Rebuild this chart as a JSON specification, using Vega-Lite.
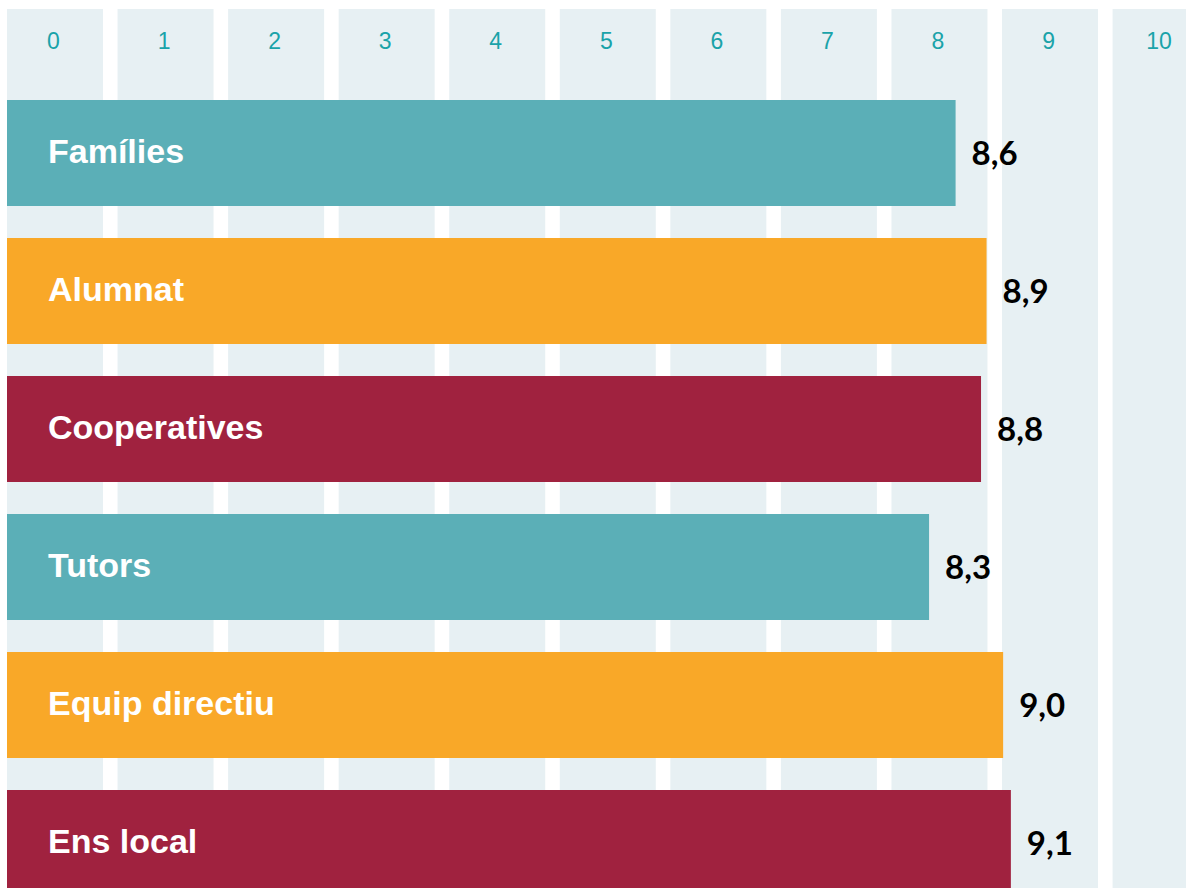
{
  "$schema": "https://vega.github.io/schema/vega-lite/v6.json",
  "autosize": "none",
  "width": 1179,
  "height": 879,
  "padding": {"left": 7, "top": 9, "right": 0, "bottom": 0},
  "background": "white",
  "config": {"view": {"stroke": null}, "font": "Arial"},
  "datasets": {
    "cols": [{"c": 0}, {"c": 1}, {"c": 2}, {"c": 3}, {"c": 4}, {"c": 5}, {"c": 6}, {"c": 7}, {"c": 8}, {"c": 9}, {"c": 10}],
    "bars": [
      {"cat": "Famílies", "value": 8.58, "label": "8,6"},
      {"cat": "Alumnat", "value": 8.86, "label": "8,9"},
      {"cat": "Cooperatives", "value": 8.81, "label": "8,8"},
      {"cat": "Tutors", "value": 8.34, "label": "8,3"},
      {"cat": "Equip directiu", "value": 9.01, "label": "9,0"},
      {"cat": "Ens local", "value": 9.08, "label": "9,1"}
    ]
  },
  "layer": [
    {
      "data": {"name": "cols"},
      "mark": {"type": "rect", "color": "#E7F0F3", "x2Offset": 96},
      "encoding": {
        "x": {
          "field": "c", "type": "quantitative",
          "scale": {"domain": [0, 10.664], "nice": false, "zero": true},
          "axis": {
            "orient": "top", "values": [0, 1, 2, 3, 4, 5, 6, 7, 8, 9, 10], "format": "d",
            "title": null, "domain": false, "ticks": false, "tickSize": 0, "grid": false,
            "labelPadding": -32, "labelBaseline": "middle", "labelOffset": 46,
            "labelFont": "Arial", "labelFontSize": 23, "labelFontWeight": "normal", "labelColor": "#1AA3A9",
            "labelFlush": false, "labelOverlap": false, "zindex": 1
          }
        },
        "x2": {"field": "c"}
      }
    },
    {
      "data": {"name": "bars"},
      "mark": {"type": "bar"},
      "encoding": {
        "y": {
          "field": "cat", "type": "nominal", "sort": null,
          "scale": {"range": [91, 887], "paddingInner": 0.232, "paddingOuter": 0},
          "axis": null
        },
        "x": {"field": "value", "type": "quantitative"},
        "color": {
          "field": "cat", "type": "nominal", "legend": null,
          "scale": {
            "domain": ["Famílies", "Alumnat", "Cooperatives", "Tutors", "Equip directiu", "Ens local"],
            "range": ["#5BAFB7", "#F9A828", "#A0223F", "#5BAFB7", "#F9A828", "#A0223F"]
          }
        }
      }
    },
    {
      "data": {"name": "bars"},
      "mark": {"type": "text", "align": "left", "baseline": "middle", "dx": 41, "font": "Arial", "fontWeight": "bold", "fontSize": 34, "color": "white"},
      "encoding": {
        "y": {"field": "cat", "type": "nominal", "sort": null},
        "x": {"datum": 0, "type": "quantitative"},
        "text": {"field": "cat"}
      }
    },
    {
      "data": {"name": "bars"},
      "mark": {"type": "text", "align": "left", "baseline": "middle", "dx": 16, "dy": 2, "font": "Lato", "fontWeight": "bold", "fontSize": 33, "color": "black"},
      "encoding": {
        "y": {"field": "cat", "type": "nominal", "sort": null},
        "x": {"field": "value", "type": "quantitative"},
        "text": {"field": "label"}
      }
    }
  ]
}
